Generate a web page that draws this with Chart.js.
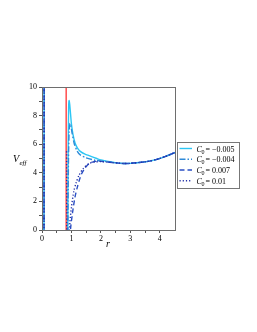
<!DOCTYPE html>
<html><head><meta charset="utf-8">
<script src="https://cdn.jsdelivr.net/npm/chart.js@4/dist/chart.umd.min.js"></script>
<style>html,body{margin:0;padding:0;background:#fff;}canvas{display:block;}</style>
</head><body>
<canvas id="c" width="257" height="332"></canvas>
<script>
// ---- data ----
const seriesLabels = ["-0.005", "-0.004", "0.007", "0.01"];
const xTickLabels = [0, 1, 2, 3, 4];
const yTickLabels = [0, 2, 4, 6, 8, 10];
const horizonR = [0.82, 0.82];
const horizonV = [0, 10];
// vertical asymptote near r = 0 (common to all curves)
const rAsym = [0.068, 0.074];
const vAsym = [-1, 11];
// C0 = -0.005
const rA = [0.875,0.88,0.89,0.905,0.92,0.94,0.97,1.0,1.05,1.12,1.2,1.3,1.46,1.6,1.86,2.0,2.3,2.6,2.8,3.0,3.3,3.6,3.9,4.2,4.55];
const vA = [-1,2,6,8.6,9.05,8.8,8.1,7.4,6.7,6.1,5.75,5.5,5.3,5.2,5.0,4.9,4.78,4.68,4.65,4.66,4.72,4.8,4.94,5.15,5.45];
// C0 = -0.004
const rB = [0.875,0.885,0.9,0.92,0.95,0.98,1.02,1.1,1.2,1.3,1.5,1.8,2.1,2.5,2.8,3.0,3.3,3.6,3.9,4.2,4.55];
const vB = [-1,2,5,6.8,7.45,7.3,6.8,6.0,5.5,5.25,5.05,4.88,4.8,4.7,4.65,4.66,4.72,4.8,4.94,5.15,5.45];
// C0 = 0.007
const rC = [0.95,0.98,1.05,1.12,1.2,1.27,1.35,1.45,1.6,1.8,2.0,2.3,2.6,2.8,3.0,3.3,3.6,3.9,4.2,4.55];
const vC = [-0.5,0.3,1.4,2.3,3.0,3.5,3.95,4.3,4.65,4.8,4.8,4.74,4.68,4.65,4.66,4.72,4.8,4.94,5.15,5.45];
// C0 = 0.01
const rD0 = [0.835, 0.842];
const vD0 = [5.5, -0.5];
const rD = [0.92,0.95,1.0,1.08,1.16,1.25,1.4,1.6,1.8,2.0,2.3,2.6,2.8,3.0,3.3,3.6,3.9,4.2,4.55];
const vD = [-0.5,0.6,1.6,2.7,3.3,3.8,4.3,4.65,4.76,4.78,4.73,4.68,4.65,4.66,4.72,4.8,4.94,5.15,5.45];

const zip = (xs, ys) => xs.map((x, i) => ({x: x, y: ys[i]}));
const gap = (x) => ({x: x, y: null});
const withAsym = (...parts) => {
  let out = zip(rAsym, vAsym);
  parts.forEach(p => { out.push(gap(p[0].x - 0.001)); out = out.concat(p); });
  return out;
};

const colors = ["#2cc6f4", "#2f8ad8", "#2a4fc4", "#2330a8"];
const dashes = [[], [6, 2, 1.5, 2], [5, 3], [1.2, 2]];

const datasets = [
  {label: "C0 = " + seriesLabels[0], data: withAsym(zip(rA, vA)), order: 4},
  {label: "C0 = " + seriesLabels[1], data: withAsym(zip(rB, vB)), order: 3},
  {label: "C0 = " + seriesLabels[2], data: withAsym(zip(rC, vC)), order: 2},
  {label: "C0 = " + seriesLabels[3], data: withAsym(zip(rD0, vD0), zip(rD, vD)), order: 1},
].map((d, i) => Object.assign(d, {
  borderColor: colors[i], borderWidth: 1.4, borderDash: dashes[i],
  pointRadius: 0, tension: 0.25, spanGaps: false, fill: false
}));
datasets.push({label: "horizon", data: zip(horizonR, horizonV), borderColor: "#ff2020",
  borderWidth: 1.2, pointRadius: 0, fill: false, order: 5});

const serif = "'Liberation Serif', 'DejaVu Serif', serif";

const deco = {
  id: "deco",
  afterDraw(chart) {
    const ctx = chart.ctx, a = chart.chartArea;
    ctx.save();
    // frame
    ctx.strokeStyle = "#6e6e6e"; ctx.lineWidth = 1;
    ctx.strokeRect(Math.round(a.left) + 0.5, Math.round(a.top) + 0.5,
      Math.round(a.right - a.left) - 1, Math.round(a.bottom - a.top));
    // axis titles
    ctx.fillStyle = "#000";
    ctx.textBaseline = "alphabetic";
    ctx.font = "italic 10px " + serif;
    ctx.textAlign = "center";
    ctx.fillText("r", (a.left + a.right) / 2 - 1, 247);
    ctx.textAlign = "left";
    ctx.fillText("V", 13, 162);
    ctx.font = "italic 7px " + serif;
    ctx.fillText("eff", 19.5, 165);
    // legend
    const lx = 177, ly = 142, lw = 62, lh = 46;
    ctx.fillStyle = "#fff"; ctx.fillRect(lx, ly, lw, lh);
    ctx.strokeStyle = "#777"; ctx.strokeRect(lx + 0.5, ly + 0.5, lw, lh);
    const rows = [148.5, 159.3, 170, 180.8];
    for (let i = 0; i < 4; i++) {
      const y = rows[i];
      ctx.strokeStyle = colors[i]; ctx.lineWidth = 1.4;
      ctx.setLineDash(dashes[i]);
      ctx.beginPath(); ctx.moveTo(179.5, y); ctx.lineTo(192, y); ctx.stroke();
      ctx.setLineDash([]);
      ctx.fillStyle = "#000";
      ctx.font = "italic 8px " + serif;
      ctx.fillText("C", 196.5, y + 3);
      ctx.font = "6px " + serif;
      ctx.fillText("0", 201.5, y + 5);
      ctx.font = "8px " + serif;
      const v = seriesLabels[i].replace("-", "\u2212");
      ctx.fillText("= " + v, 205.5, y + 3);
    }
    ctx.restore();
  }
};

new Chart(document.getElementById("c"), {
  type: "line",
  data: {datasets: datasets},
  options: {
    responsive: false, animation: false,
    layout: {padding: {left: 0, top: 87, right: 81, bottom: 82}},
    plugins: {legend: {display: false}, tooltip: {enabled: false}},
    scales: {
      x: {
        type: "linear", min: 0, max: 4.55,
        afterFit(s) { s.height = 20; },
        afterBuildTicks(s) { s.ticks = s.ticks.filter(t => t.value <= 4.5); },
        grid: {drawOnChartArea: false, drawTicks: true, tickLength: 3, color: "#555"},
        border: {display: false},
        ticks: {stepSize: 0.5, padding: 1, color: "#000", font: {family: serif, size: 8},
          maxRotation: 0, autoSkip: false,
          callback: v => xTickLabels.includes(v) ? String(v) : ""}
      },
      y: {
        min: 0, max: 10,
        afterFit(s) { s.width = 42; },
        grid: {drawOnChartArea: false, drawTicks: true, tickLength: 3, color: "#555"},
        border: {display: false},
        ticks: {stepSize: 1, padding: 2, color: "#000", font: {family: serif, size: 8},
          autoSkip: false,
          callback: v => yTickLabels.includes(v) ? String(v) : ""}
      }
    }
  },
  plugins: [deco]
});
</script>
</body></html>
